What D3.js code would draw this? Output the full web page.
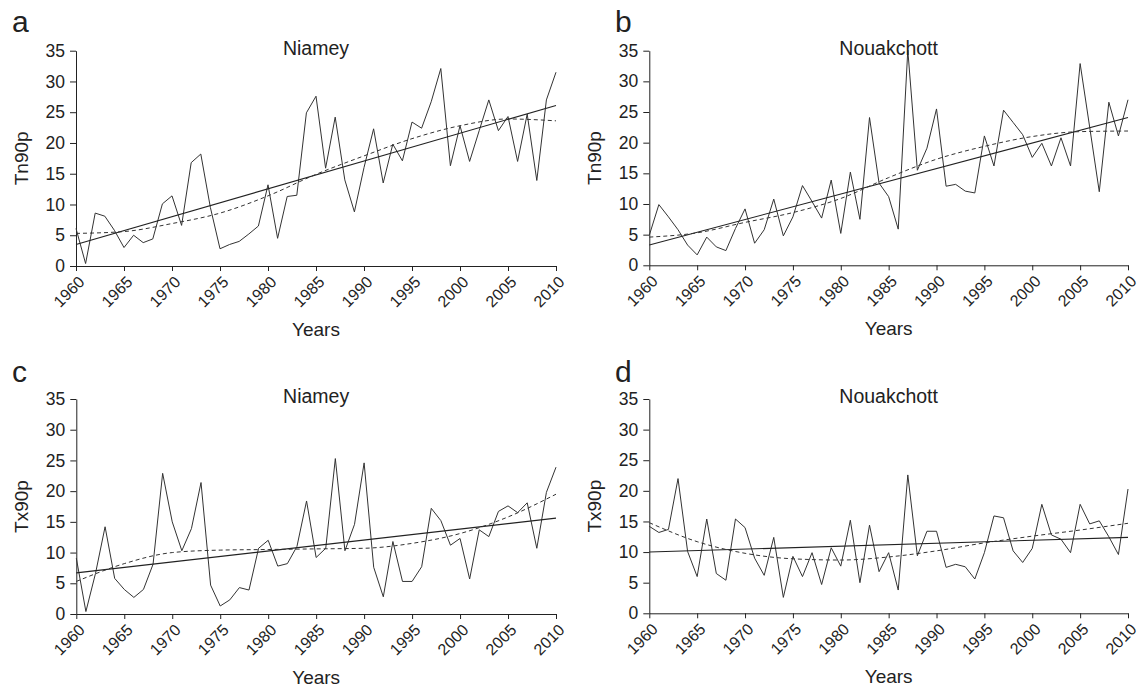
<!DOCTYPE html>
<html><head><meta charset="utf-8">
<script src="https://cdn.jsdelivr.net/npm/d3@7"></script>
<style>body{margin:0;background:#fff}svg{display:block;font-family:"Liberation Sans",Arial,sans-serif}</style>
</head><body><svg id="c" width="1139" height="689"></svg>
<script>
const years = d3.range(1960, 2011);
const xTicks = [1960,1965,1970,1975,1980,1985,1990,1995,2000,2005,2010];
const yTicks = [0,5,10,15,20,25,30,35];

const tn90pNiamey = [6.1,0.4,8.6,8.1,5.8,3.0,5.0,3.8,4.4,10.1,11.4,6.6,16.8,18.2,9.5,2.8,3.5,4.0,5.2,6.5,13.2,4.5,11.3,11.5,24.9,27.6,15.9,24.2,14.0,8.8,16.0,22.3,13.5,19.8,17.1,23.4,22.4,26.7,32.1,16.3,22.8,17.0,22.0,27.0,22.0,24.3,17.0,24.7,13.9,27.0,31.5];
const tn90pNouakchott = [4.9,9.9,7.9,5.8,3.3,1.7,4.6,3.0,2.4,6.0,9.2,3.6,5.8,10.8,4.8,7.9,13.0,10.4,7.7,13.9,5.2,15.2,7.5,24.1,13.4,11.2,5.9,35.1,15.5,19.1,25.5,12.9,13.2,12.1,11.8,21.1,16.2,25.3,23.3,21.3,17.6,19.9,16.2,20.8,16.2,32.9,22.5,12.0,26.6,21.1,27.0];
const tx90pNiamey = [9.1,0.4,6.6,14.2,5.8,4.0,2.7,4.0,8.1,22.9,15.0,10.3,13.9,21.4,4.7,1.3,2.3,4.3,3.9,10.7,12.0,7.8,8.2,11.0,18.4,9.2,10.7,25.3,10.3,14.6,24.6,7.6,2.8,11.8,5.3,5.3,7.7,17.2,15.2,11.2,12.3,5.7,13.7,12.6,16.7,17.6,16.5,18.1,10.7,19.8,23.9];
const tx90pNouakchott = [14.2,13.2,13.7,22.0,10.1,6.0,15.4,6.5,5.4,15.4,14.0,9.0,6.2,12.4,2.6,9.3,6.0,9.9,4.7,10.7,7.7,15.2,5.0,14.4,6.8,9.9,3.8,22.6,9.4,13.4,13.4,7.5,8.0,7.6,5.6,9.9,15.9,15.6,10.2,8.3,10.6,17.8,12.8,12.1,9.9,17.8,14.6,15.1,12.5,9.6,20.3];

// linear trend end values (1960, 2010)
const trendYears = [1960, 2010];
const trendA = [3.5, 26.1];
const trendB = [3.3, 24.1];
const trendC = [6.7, 15.6];
const trendD = [10.0, 12.4];

// polynomial fit (dashed) read every 5 years
const polyYears = [1960,1965,1970,1975,1980,1985,1990,1995,2000,2005,2010];
const polyA = [5.3,5.6,6.9,8.6,11.4,14.9,17.9,20.7,22.8,23.9,23.6];
const polyB = [4.6,5.3,7.0,8.6,10.9,14.3,17.3,19.4,21.0,21.8,21.9];
const polyC = [5.3,8.2,10.0,10.4,10.5,10.6,10.7,11.5,13.1,15.8,19.5];
const polyD = [14.8,11.7,9.8,8.9,8.7,9.2,10.2,11.5,12.6,13.6,14.7];

const panels = [
  {letter:"a", title:"Niamey", ylab:"Tn90p", data:tn90pNiamey, trend:trendA, poly:polyA, L:76, R:556, T:50.7, B:266, lx:12, ly:32},
  {letter:"b", title:"Nouakchott", ylab:"Tn90p", data:tn90pNouakchott, trend:trendB, poly:polyB, L:649.3, R:1128, T:50.7, B:265.3, lx:615, ly:32},
  {letter:"c", title:"Niamey", ylab:"Tx90p", data:tx90pNiamey, trend:trendC, poly:polyC, L:76.3, R:556, T:399, B:614, lx:12, ly:382},
  {letter:"d", title:"Nouakchott", ylab:"Tx90p", data:tx90pNouakchott, trend:trendD, poly:polyD, L:649.3, R:1128, T:399, B:613.3, lx:615, ly:382}
];

const svg = d3.select("#c");
const ink = "#222";
const lineCol = "#333";

panels.forEach(p => {
  const g = svg.append("g");
  const x = d3.scaleLinear().domain([1960, 2010]).range([p.L, p.R]);
  const y = d3.scaleLinear().domain([0, 35]).range([p.B, p.T]);

  // y axis
  const ya = g.append("g").attr("transform", `translate(${p.L},0)`)
    .call(d3.axisLeft(y).tickValues(yTicks).tickSize(6).tickPadding(5).tickSizeOuter(0));
  ya.selectAll("text").attr("font-size", 17.5).attr("fill", ink).style("font-family","Liberation Sans, Arial, sans-serif");
  ya.selectAll("line,path").attr("stroke", ink);

  // x axis
  const xa = g.append("g").attr("transform", `translate(0,${p.B})`)
    .call(d3.axisBottom(x).tickValues(xTicks).tickFormat(d3.format("d")).tickSize(5).tickSizeOuter(0));
  xa.selectAll("line,path").attr("stroke", ink);
  xa.selectAll("text")
    .attr("font-size", 16).attr("fill", ink).style("font-family","Liberation Sans, Arial, sans-serif")
    .attr("text-anchor", "end").attr("dy", "0.35em")
    .attr("transform", "translate(5,13) rotate(-45)").attr("y", 0).attr("x", 0);

  // data line
  const ln = d3.line().x((d,i) => x(years[i])).y(d => y(d));
  g.append("path").datum(p.data).attr("d", ln)
    .attr("fill","none").attr("stroke", lineCol).attr("stroke-width", 1).attr("stroke-linejoin","miter");

  // trend
  g.append("path").datum(p.trend)
    .attr("d", d3.line().x((d,i) => x(trendYears[i])).y(d => y(d)))
    .attr("fill","none").attr("stroke", "#222").attr("stroke-width", 1.1);

  // polynomial dashed
  g.append("path").datum(p.poly)
    .attr("d", d3.line().curve(d3.curveMonotoneX).x((d,i) => x(polyYears[i])).y(d => y(d)))
    .attr("fill","none").attr("stroke", "#333").attr("stroke-width", 1).attr("stroke-dasharray","4,3");

  // texts
  g.append("text").attr("x", p.lx).attr("y", p.ly).text(p.letter)
    .attr("font-size", 30).attr("fill", ink);
  g.append("text").attr("x", (p.L + p.R)/2).attr("y", p.T + 4).attr("text-anchor","middle")
    .text(p.title).attr("font-size", 19.5).attr("fill", ink);
  g.append("text").attr("x", (p.L + p.R)/2).attr("y", p.B + 70).attr("text-anchor","middle")
    .text("Years").attr("font-size", 19).attr("fill", ink);
  g.append("text").attr("transform", `translate(${p.L - 55},${(p.T + p.B)/2}) rotate(-90)`)
    .attr("text-anchor","middle").attr("dy", "0.35em").text(p.ylab).attr("font-size", 19).attr("fill", ink);
});
</script></body></html>
